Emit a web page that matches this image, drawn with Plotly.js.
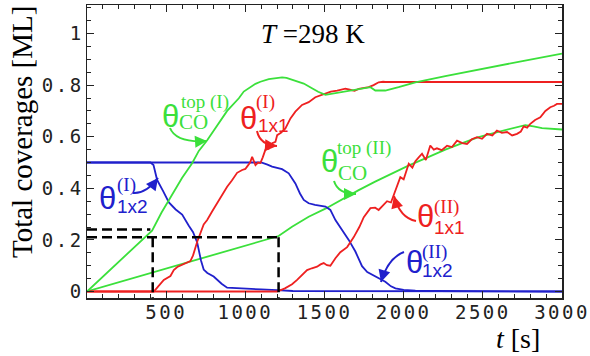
<!DOCTYPE html>
<html>
<head>
<meta charset="utf-8">
<script src="https://cdn.plot.ly/plotly-3.0.1.min.js"></script>
<style>
html,body{margin:0;padding:0;background:#fff;}
#chart{width:590px;height:356px;}
.xtick text,.ytick text{letter-spacing:2.5px;}
</style>
</head>
<body>
<div id="chart"></div>
<script>
// ---- data (time in s, coverage in ML) ----
const coTopI_t = [0, 411, 470, 538, 600, 664, 706, 759, 853, 885, 959, 990, 1064, 1095, 1148, 1179, 1232, 1260, 1295, 1330, 1369, 1421, 1460, 1506, 1560, 1621, 1680, 1748, 1790, 1821, 1884, 1968, 2074, 2263, 2500, 2750, 3000];
const coTopI_v = [0, 0.236, 0.305, 0.375, 0.44, 0.497, 0.545, 0.586, 0.669, 0.7, 0.749, 0.775, 0.805, 0.813, 0.823, 0.826, 0.83, 0.828, 0.82, 0.815, 0.806, 0.788, 0.774, 0.762, 0.768, 0.774, 0.782, 0.788, 0.792, 0.779, 0.779, 0.792, 0.811, 0.835, 0.864, 0.893, 0.922];

const coTopII_t = [0, 1127, 1169, 1210, 1295, 1400, 1506, 1610, 1716, 1820, 1927, 2030, 2137, 2263, 2370, 2473, 2580, 2684, 2740, 2768, 2820, 2874, 3000];
const coTopII_v = [0, 0.2, 0.207, 0.215, 0.251, 0.29, 0.321, 0.357, 0.393, 0.426, 0.458, 0.488, 0.516, 0.55, 0.575, 0.598, 0.616, 0.632, 0.642, 0.645, 0.64, 0.633, 0.628];

const r1x1I_t = [0, 422, 450, 485, 527, 548, 570, 590, 622, 653, 670, 696, 737, 759, 790, 822, 850, 885, 915, 948, 980, 1000, 1011, 1030, 1043, 1055, 1064, 1080, 1095, 1110, 1127, 1148, 1170, 1190, 1201, 1225, 1253, 1285, 1316, 1358, 1400, 1442, 1495, 1540, 1580, 1632, 1660, 1690, 1716, 1750, 1779, 1810, 1842, 1870, 1884, 3000];
const r1x1I_v = [0, 0, 0.02, 0.045, 0.06, 0.083, 0.095, 0.1, 0.109, 0.118, 0.14, 0.193, 0.26, 0.277, 0.31, 0.342, 0.37, 0.406, 0.43, 0.46, 0.471, 0.475, 0.484, 0.5, 0.522, 0.505, 0.49, 0.5, 0.498, 0.52, 0.55, 0.553, 0.575, 0.58, 0.606, 0.615, 0.632, 0.671, 0.697, 0.723, 0.734, 0.753, 0.766, 0.775, 0.779, 0.786, 0.782, 0.778, 0.785, 0.788, 0.792, 0.8, 0.811, 0.813, 0.812, 0.812];

const r1x1II_t = [0, 1200, 1250, 1295, 1327, 1360, 1390, 1420, 1453, 1475, 1495, 1515, 1537, 1570, 1600, 1643, 1684, 1720, 1748, 1790, 1820, 1842, 1870, 1895, 1920, 1937, 1958, 1979, 2000, 2011, 2032, 2055, 2074, 2095, 2116, 2140, 2168, 2190, 2210, 2240, 2274, 2305, 2337, 2370, 2400, 2430, 2463, 2495, 2526, 2560, 2589, 2620, 2653, 2685, 2716, 2740, 2758, 2780, 2800, 2830, 2863, 2895, 2926, 2950, 2968, 3000];
const r1x1II_v = [0, 0, 0.012, 0.028, 0.045, 0.065, 0.083, 0.09, 0.096, 0.105, 0.11, 0.102, 0.1, 0.13, 0.152, 0.172, 0.21, 0.25, 0.288, 0.323, 0.325, 0.316, 0.335, 0.35, 0.345, 0.372, 0.41, 0.443, 0.435, 0.456, 0.495, 0.48, 0.505, 0.52, 0.534, 0.51, 0.566, 0.55, 0.555, 0.548, 0.565, 0.56, 0.585, 0.575, 0.572, 0.59, 0.598, 0.592, 0.611, 0.605, 0.624, 0.615, 0.618, 0.605, 0.611, 0.62, 0.64, 0.635, 0.65, 0.665, 0.675, 0.7, 0.714, 0.72, 0.727, 0.727];

const b1x2I_t = [0, 401, 420, 443, 480, 517, 560, 601, 643, 670, 696, 720, 737, 760, 800, 850, 885, 950, 1000, 1100, 1200, 1300, 3000];
const b1x2I_v = [0.5, 0.5, 0.49, 0.432, 0.39, 0.345, 0.318, 0.298, 0.255, 0.23, 0.19, 0.12, 0.085, 0.072, 0.058, 0.03, 0.015, 0.012, 0.01, 0.008, 0.005, 0.002, 0];

const b1x2II_t = [0, 1100, 1140, 1169, 1232, 1274, 1316, 1345, 1369, 1400, 1440, 1506, 1537, 1569, 1611, 1653, 1695, 1737, 1770, 1800, 1850, 1884, 1920, 1948, 2000, 2074, 2200, 3000];
const b1x2II_v = [0.5, 0.5, 0.492, 0.484, 0.474, 0.458, 0.419, 0.38, 0.355, 0.342, 0.336, 0.329, 0.316, 0.277, 0.238, 0.2, 0.155, 0.098, 0.075, 0.065, 0.05, 0.038, 0.02, 0.012, 0.006, 0.003, 0.002, 0];

// guide (dashed) lines
const guideT = [415, 1210];
const guideCovUpper = 0.24;
const guideCovLower = 0.21;
const guideUpperEnd = 400;

const xTickVals = [500, 1000, 1500, 2000, 2500, 3000];

// ---- styling ----
const GREEN = '#3be03b', RED = '#ee2020', BLUE = '#2020cc';
const XR = [0, 3000], YR = [-0.0252, 1.1105];
const L = 87, R = 562, T = 5, B = 298;
const X = px => XR[0] + (px - L) / (R - L) * (XR[1] - XR[0]);
const Y = py => YR[1] - (py - T) / (B - T) * (YR[1] - YR[0]);
const PX = px => (px - L) / (R - L);
const PY = py => (B - py) / (B - T);

function line(t, v, c) {
  return {x: t, y: v, type: 'scatter', mode: 'lines', line: {color: c, width: 1.8}, hoverinfo: 'skip'};
}
const traces = [
  line(coTopII_t, coTopII_v, GREEN),
  line(b1x2I_t, b1x2I_v, BLUE),
  line(b1x2II_t, b1x2II_v, BLUE),
  line(r1x1I_t, r1x1I_v, RED),
  line(r1x1II_t, r1x1II_v, RED),
  line(coTopI_t, coTopI_v, GREEN)
];

const dash = {color: '#000', width: 2.5, dash: '10px,5px'};
const shapes = [
  {type: 'line', xref: 'x', yref: 'y', x0: 0, x1: guideUpperEnd, y0: guideCovUpper, y1: guideCovUpper, line: dash},
  {type: 'line', xref: 'x', yref: 'y', x0: 0, x1: guideT[1], y0: guideCovLower, y1: guideCovLower, line: dash},
  {type: 'line', xref: 'x', yref: 'y', x0: guideT[0], x1: guideT[0], y0: guideCovLower, y1: YR[0], line: dash},
  {type: 'line', xref: 'x', yref: 'y', x0: guideT[1], x1: guideT[1], y0: guideCovLower, y1: YR[0], line: dash}
];

const annotations = [];
const SERIF = 'Liberation Serif, Times New Roman, serif';
const SANS = 'Liberation Sans, Arial, sans-serif';

function txt(text, px, py, size, family, color, xanchor) {
  annotations.push({x: X(px), y: Y(py), xref: 'x', yref: 'y', text: text, showarrow: false,
    xanchor: xanchor || 'center', yanchor: 'middle', font: {size: size, family: family, color: color}});
}
function label(color, th, sup, sub, subFamily) {
  txt('θ', th[0], th[1], 31, SANS, color, 'center');
  txt(sup[0], sup[1], sup[2], 19, SERIF, color, 'left');
  txt(sub[0], sub[1], sub[2], subFamily === 'serif' ? 21 : 19, subFamily === 'serif' ? SERIF : SANS, color, 'left');
}
function arrow(color, s, c, e) {
  shapes.push({type: 'path', xref: 'x', yref: 'y',
    path: `M ${X(s[0])},${Y(s[1])} Q ${X(c[0])},${Y(c[1])} ${X(e[0])},${Y(e[1])}`,
    line: {color: color, width: 2}});
  const dx = c[0] - e[0], dy = c[1] - e[1], n = Math.hypot(dx, dy);
  annotations.push({x: X(e[0]), y: Y(e[1]), xref: 'x', yref: 'y', text: '', showarrow: true,
    ax: dx / n * 10, ay: dy / n * 10, arrowhead: 2, arrowsize: 1.2, arrowwidth: 2, arrowcolor: color, standoff: 0});
}

// θ_CO^top(I)
label(GREEN, [170.5, 116], ['top (I)', 179, 102], ['CO', 177, 122], 'serif');
arrow(GREEN, [170, 128], [176, 143], [207, 141]);
// θ_1x1^(I)
label(RED, [248, 118], ['(I)', 254, 102], ['1x1', 256, 125], 'sans');
arrow(RED, [257, 131], [260, 145], [277, 146]);
// θ_1x2^(I)
label(BLUE, [107.5, 198], ['(I)', 115, 185], ['1x2', 115, 206], 'sans');
arrow(BLUE, [133, 193], [146, 194], [158, 178]);
// θ_CO^top(II)
label(GREEN, [329.5, 161], ['top (II)', 335, 148], ['CO', 336, 173], 'serif');
arrow(GREEN, [334, 181], [338, 194], [356, 194]);
// θ_1x1^(II)
label(RED, [425.5, 216], ['(II)', 432, 207], ['1x1', 432, 227], 'sans');
arrow(RED, [416, 221], [400, 218], [394, 196]);
// θ_1x2^(II)
label(BLUE, [414.5, 262], ['(II)', 420, 252], ['1x2', 420, 270], 'sans');
arrow(BLUE, [404, 252], [388, 258], [381, 282]);

// T = 298 K
txt('<i>T</i> =298 K', 313, 34, 27, SERIF, '#000', 'center');
// axis titles
annotations.push({x: PX(518), y: PY(338), xref: 'paper', yref: 'paper', text: '<i>t</i> [s]', showarrow: false,
  xanchor: 'center', yanchor: 'middle', font: {size: 28, family: SERIF, color: '#000'}});
annotations.push({x: PX(22), y: PY(132), xref: 'paper', yref: 'paper', text: 'Total coverages [ML]', showarrow: false,
  textangle: -90, xanchor: 'center', yanchor: 'middle', font: {size: 29, family: SERIF, color: '#000'}});

const axisCommon = {
  showline: true, mirror: 'allticks', linecolor: '#222', linewidth: 1.5,
  ticks: 'inside', ticklen: 7, tickwidth: 1, tickcolor: '#222',
  showgrid: false, zeroline: false,
  tickfont: {family: 'DejaVu Sans Mono, monospace', size: 19, color: '#222'}
};

const layout = {
  width: 590, height: 356,
  margin: {l: L, r: 590 - R, t: T, b: 356 - B, pad: 0},
  paper_bgcolor: '#fff', plot_bgcolor: '#fff',
  showlegend: false,
  xaxis: Object.assign({}, axisCommon, {range: XR, tickmode: 'array', tickvals: xTickVals,
    ticktext: xTickVals.map(String), ticklabelstandoff: -3,
    minor: {tickmode: 'linear', tick0: 0, dtick: 100, ticks: 'inside', ticklen: 4, tickcolor: '#222', tickwidth: 1, showgrid: false}}),
  yaxis: Object.assign({}, axisCommon, {range: YR, tickmode: 'linear', tick0: 0, dtick: 0.2, ticklabelstandoff: -2,
    minor: {tickmode: 'linear', tick0: 0, dtick: 0.05, ticks: 'inside', ticklen: 4, tickcolor: '#222', tickwidth: 1, showgrid: false}}),
  shapes: shapes,
  annotations: annotations
};

Plotly.newPlot('chart', traces, layout, {staticPlot: true, displayModeBar: false});
</script>
</body>
</html>
